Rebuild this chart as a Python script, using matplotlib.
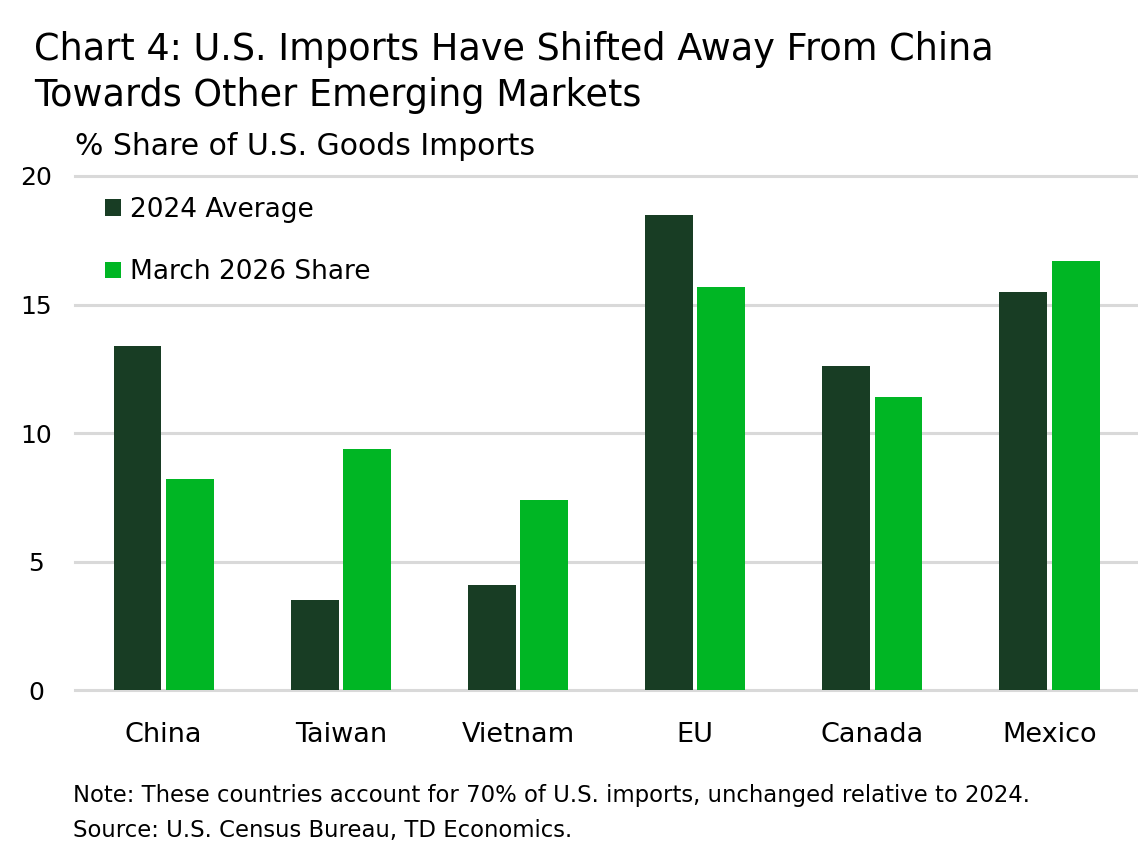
import numpy as np
import matplotlib.pyplot as plt

plt.rcParams['font.family'] = ['DejaVu Sans']

countries = ["China", "Taiwan", "Vietnam", "EU", "Canada", "Mexico"]
avg_2024 = [13.4, 3.5, 4.1, 18.5, 12.6, 15.5]
mar_2026 = [8.2, 9.4, 7.4, 15.7, 11.4, 16.7]
yticks = [0, 5, 10, 15, 20]

dark = "#183d24"
green = "#00b624"

fig = plt.figure(figsize=(11.38, 8.5), dpi=100)
ax = fig.add_axes([0.066, 0.188, 0.934, 0.605])

x = np.arange(len(countries))
w = 0.27
ax.bar(x - 0.148, avg_2024, width=w, color=dark, label="2024 Average", zorder=3)
ax.bar(x + 0.148, mar_2026, width=w, color=green, label="March 2026 Share", zorder=3)

ax.set_xlim(-0.5, len(countries) - 0.5)
ax.set_ylim(0, 20)
ax.set_yticks(yticks)
ax.set_yticklabels([str(t) for t in yticks], ha='center')
ax.set_xticks(x)
ax.set_xticklabels(countries)
ax.tick_params(axis='y', length=0, pad=28, labelsize=18)
ax.tick_params(axis='x', length=0, pad=23, labelsize=19.5)
ax.grid(axis='y', color="#d9d9d9", linewidth=2.2, zorder=0)
for gl in ax.get_ygridlines():
    gl.set_clip_on(False)
ax.set_axisbelow(True)
for s in ax.spines.values():
    s.set_visible(False)

ax.legend(loc='upper left', bbox_to_anchor=(0.018, 0.98), frameon=False, fontsize=19,
          handlelength=0.6, handleheight=0.6, handletextpad=0.35, labelspacing=1.38,
          borderaxespad=0)

fig.text(0.03, 0.964, "Chart 4: U.S. Imports Have Shifted Away From China\nTowards Other Emerging Markets",
         fontsize=26.4, va='top', ha='left', linespacing=1.34)
fig.text(0.066, 0.828, "% Share of U.S. Goods Imports", fontsize=21.5, va='center', ha='left')
fig.text(0.064, 0.0435, "Note: These countries account for 70% of U.S. imports, unchanged relative to 2024.\n"
         "Source: U.S. Census Bureau, TD Economics.", fontsize=16.4, va='center', ha='left', linespacing=1.65)

fig.savefig("out.png", dpi=100)
